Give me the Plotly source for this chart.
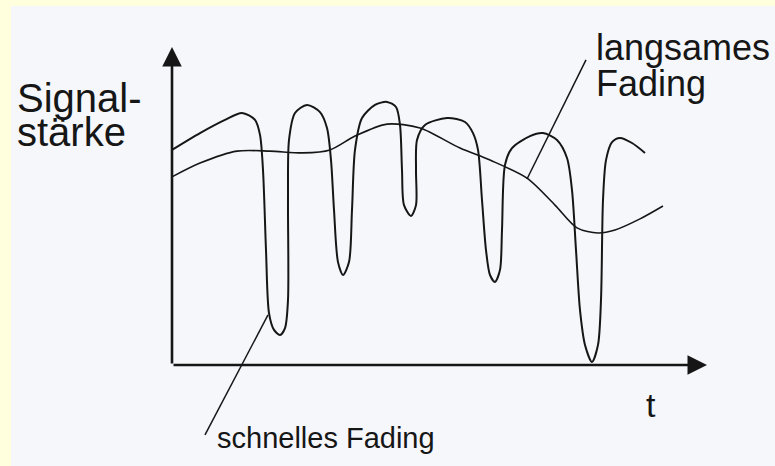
import plotly.graph_objects as go

# Slow fading curve (t, signal strength) in diagram units
slow_t = [0.00, 0.56, 1.30, 1.96, 2.62, 3.16, 3.66, 4.30, 4.96, 5.76, 6.36, 7.10, 7.66, 8.10, 8.52, 8.86, 9.36, 9.82]
slow_s = [6.27, 6.73, 7.13, 7.13, 7.07, 7.17, 7.63, 8.03, 7.90, 7.23, 6.83, 6.23, 5.33, 4.57, 4.40, 4.50, 4.87, 5.30]

# Fast fading curve
fast_t = [0.00, 0.56, 1.06, 1.40, 1.66, 1.76, 1.82, 1.88, 1.94, 2.04, 2.16, 2.26, 2.32, 2.32, 2.34, 2.46,
          2.70, 2.96, 3.10, 3.18, 3.24, 3.32, 3.42, 3.54, 3.60, 3.66, 3.80, 4.06, 4.30, 4.48, 4.56, 4.60,
          4.64, 4.78, 4.88, 4.88, 4.90, 5.06, 5.50, 5.86, 6.02, 6.12, 6.20, 6.28, 6.36, 6.46, 6.56, 6.60,
          6.66, 6.80, 7.16, 7.42, 7.70, 7.90, 8.00, 8.08, 8.16, 8.26, 8.40, 8.52, 8.58, 8.62, 8.68, 8.80,
          8.96, 9.20, 9.46]
fast_s = [7.17, 7.73, 8.17, 8.40, 8.17, 7.67, 6.50, 3.83, 1.73, 1.17, 1.00, 1.23, 2.17, 5.50, 7.50, 8.40,
          8.67, 8.43, 7.90, 6.83, 5.17, 3.43, 3.00, 3.43, 5.17, 7.17, 8.23, 8.67, 8.77, 8.60, 8.00, 6.50,
          5.33, 4.97, 5.33, 6.50, 7.50, 8.00, 8.23, 8.10, 7.73, 7.17, 5.50, 3.83, 3.00, 2.77, 3.17, 4.50,
          6.67, 7.23, 7.63, 7.73, 7.50, 6.90, 5.83, 3.83, 1.83, 0.67, 0.10, 0.67, 2.17, 5.50, 6.83, 7.43,
          7.57, 7.40, 7.07]

# Axis extents (diagram units)
t_axis_end = 10.7
s_axis_end = 10.6

ink = "#161616"
font_family = "Liberation Sans, Arial, sans-serif"
inner_bg = "#F5F7FB"
frame_bg = "#FFFFDD"

fig = go.Figure()
fig.add_trace(go.Scatter(x=slow_t, y=slow_s, mode="lines",
                         line=dict(color=ink, width=1.6, shape="spline", smoothing=0.8),
                         hoverinfo="skip", showlegend=False))
fig.add_trace(go.Scatter(x=fast_t, y=fast_s, mode="lines",
                         line=dict(color=ink, width=2.0, shape="spline", smoothing=0.8),
                         hoverinfo="skip", showlegend=False))

annotations = []
# axes with arrowheads
annotations.append(dict(x=0, y=s_axis_end, ax=0, ay=0, xref="x", yref="y", axref="x", ayref="y",
                        showarrow=True, arrowhead=2, arrowsize=1.5, arrowwidth=2.6, arrowcolor=ink, text=""))
annotations.append(dict(x=t_axis_end, y=0, ax=0, ay=0, xref="x", yref="y", axref="x", ayref="y",
                        showarrow=True, arrowhead=2, arrowsize=1.5, arrowwidth=2.6, arrowcolor=ink, text=""))

def label(text, x, y, xanchor="left", size=33):
    annotations.append(dict(x=x, y=y, xref="x", yref="y", text=text, showarrow=False,
                            xanchor=xanchor, yanchor="middle", borderpad=0,
                            font=dict(family=font_family, size=size, color=ink)))

label("Signal-", -3.12, 8.90, size=40)
label("stärke", -3.12, 7.76, size=40)
label("langsames", 8.46, 10.60, size=36)
label("Fading", 8.46, 9.40, size=36)
label("t", 9.58, -1.33, xanchor="center", size=34)
label("schnelles Fading", 0.88, -2.43, size=29)

shapes = [
    # light-yellow frame strips (left and top edge)
    dict(type="rect", xref="paper", yref="paper", x0=0, x1=11 / 775, y0=0, y1=1,
         fillcolor=frame_bg, line=dict(width=0), layer="below"),
    dict(type="rect", xref="paper", yref="paper", x0=0, x1=1, y0=1 - 6 / 466, y1=1,
         fillcolor=frame_bg, line=dict(width=0), layer="below"),
    # leader lines
    dict(type="line", x0=0.66, y0=-2.33, x1=1.92, y1=1.67, xref="x", yref="y",
         line=dict(color=ink, width=1.5)),
    dict(type="line", x0=7.10, y0=6.20, x1=8.28, y1=10.17, xref="x", yref="y",
         line=dict(color=ink, width=1.5)),
]

fig.update_layout(
    width=775, height=466,
    margin=dict(l=0, r=0, t=0, b=0),
    paper_bgcolor=inner_bg,
    plot_bgcolor=inner_bg,
    annotations=annotations,
    shapes=shapes,
    xaxis=dict(range=[-3.44, 12.06], visible=False, fixedrange=True),
    yaxis=dict(range=[-3.367, 12.167], visible=False, fixedrange=True),
)

fig.write_html("out.html", config={"displayModeBar": False},
               post_script="document.body.style.margin='0';document.body.style.overflow='hidden';"
                           "document.body.style.background='#F5F7FB';")
